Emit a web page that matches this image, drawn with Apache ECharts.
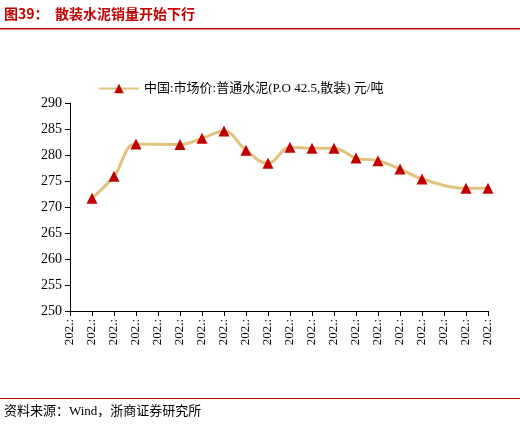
<!DOCTYPE html><html><head><meta charset="utf-8"><script src="https://cdn.jsdelivr.net/npm/echarts@6/dist/echarts.min.js"></script>
<style>body{margin:0}#c{width:520px;height:431px}</style></head><body><div id="c"></div><script>
const categories=['2024-01','2024-02','2024-03','2024-04','2024-05','2024-06','2024-07','2024-08','2024-09','2024-10','2024-11','2024-12','2025-01','2025-02','2025-03','2025-04','2025-05','2025-06','2025-07','2025-08'];
const values=[null,271.7,275.9,282.1,null,282.0,283.2,284.6,280.9,278.4,281.5,281.3,281.3,279.4,278.9,277.3,275.4,null,273.6,273.6];
const seriesName='中国:市场价:普通水泥(P.O 42.5,散装) 元/吨';
const f='"Liberation Serif","Noto Sans CJK SC",serif';
const ch=echarts.init(document.getElementById('c'));
ch.setOption({
animation:false,
graphic:[
{type:'text',left:4,top:7,style:{text:'图39：  散装水泥销量开始下行',fill:'#C00000',font:'bold 14px "Noto Sans CJK SC"'}},
{type:'rect',shape:{x:0,y:28,width:520,height:1.5},style:{fill:'#C00000'}},
{type:'rect',shape:{x:0,y:398,width:520,height:1},style:{fill:'#C00000'}},
{type:'text',left:4,top:405,style:{text:'资料来源：Wind，浙商证券研究所',fill:'#000',font:'13px '+f}}
],
legend:{top:77,left:93,itemWidth:40,itemHeight:12,textStyle:{fontFamily:f,fontSize:13,color:'#000'},data:[seriesName]},
grid:{left:70,right:32,top:103,bottom:120},
xAxis:{type:'category',boundaryGap:false,data:categories,axisLine:{lineStyle:{color:'#000'}},axisTick:{show:true,alignWithLabel:true,lineStyle:{color:'#000'}},
axisLabel:{rotate:90,interval:0,color:'#000',fontFamily:f,fontSize:13,formatter:v=>v.slice(0,3)+'.:'}},
yAxis:{type:'value',min:250,max:290,interval:5,splitLine:{show:false},axisLine:{show:true,lineStyle:{color:'#000'}},axisTick:{show:true,lineStyle:{color:'#000'}},axisLabel:{color:'#000',fontFamily:f,fontSize:14}},
series:[{name:seriesName,type:'line',data:values,connectNulls:true,smooth:0.4,symbol:'triangle',symbolSize:11,
lineStyle:{color:'#E2C27C',width:3},itemStyle:{color:'#C00000'}}]
});
</script></body></html>
